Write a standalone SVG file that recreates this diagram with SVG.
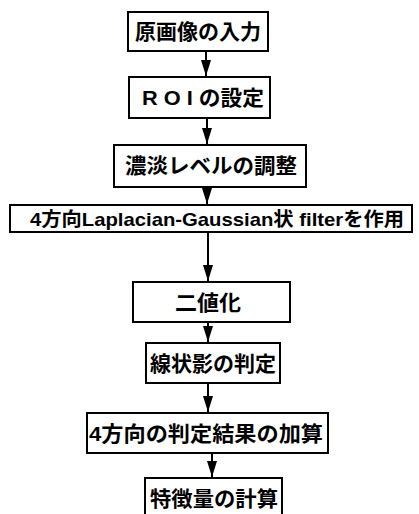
<svg xmlns="http://www.w3.org/2000/svg" width="419" height="514" viewBox="0 0 419 514">
<defs>
<marker id="ah" markerWidth="16" markerHeight="10" refX="16" refY="5" orient="auto" markerUnits="userSpaceOnUse" viewBox="0 0 16 10">
<path d="M0,0 L16,5 L0,10 Z" fill="#000"/>
</marker>
</defs>
<style>
.box{fill:#fff;stroke:#000;stroke-width:2}
.t{font-family:"Liberation Sans","Noto Sans CJK JP",sans-serif;font-weight:bold;font-size:21px;fill:#000;text-anchor:middle}
.c{stroke:#000;stroke-width:2;fill:none}
</style>
<rect width="419" height="514" fill="#fff"/>
<g id="n1"><rect class="box" x="128" y="12" width="140" height="39"/><text class="t" x="198" y="39" textLength="126" lengthAdjust="spacingAndGlyphs">原画像の入力</text></g>
<g id="n2"><rect class="box" x="129" y="77" width="141" height="41"/><text class="t" x="203" y="105" textLength="122" lengthAdjust="spacingAndGlyphs">R O I の設定</text></g>
<g id="n3"><rect class="box" x="114" y="145" width="192" height="42"/><text class="t" x="211" y="173" textLength="172" lengthAdjust="spacingAndGlyphs">濃淡レベルの調整</text></g>
<g id="n4"><rect class="box" x="10" y="205" width="402" height="27"/><text class="t" x="217" y="226" style="font-size:19px" textLength="374" lengthAdjust="spacingAndGlyphs">4方向Laplacian-Gaussian状 filterを作用</text></g>
<g id="n5"><rect class="box" x="133" y="282" width="157" height="40"/><text class="t" x="208" y="310" textLength="66" lengthAdjust="spacingAndGlyphs">二値化</text></g>
<g id="n6"><rect class="box" x="146" y="343" width="134" height="40"/><text class="t" x="213" y="371" textLength="126" lengthAdjust="spacingAndGlyphs">線状影の判定</text></g>
<g id="n7"><rect class="box" x="87" y="413" width="241" height="40"/><text class="t" x="206" y="441" textLength="234" lengthAdjust="spacingAndGlyphs">4方向の判定結果の加算</text></g>
<g id="n8"><rect class="box" x="145" y="478" width="137" height="40"/><text class="t" x="214" y="506" textLength="128" lengthAdjust="spacingAndGlyphs">特徴量の計算</text></g>
<g id="connectors">
<line class="c" x1="206" y1="52" x2="206" y2="76" marker-end="url(#ah)"/>
<line class="c" x1="207" y1="119" x2="207" y2="144" marker-end="url(#ah)"/>
<line class="c" x1="207" y1="188" x2="207" y2="204" marker-end="url(#ah)"/>
<line class="c" x1="208" y1="233" x2="208" y2="281" marker-end="url(#ah)"/>
<line class="c" x1="208" y1="323" x2="208" y2="342" marker-end="url(#ah)"/>
<line class="c" x1="208" y1="384" x2="208" y2="412" marker-end="url(#ah)"/>
<line class="c" x1="212" y1="454" x2="212" y2="477" marker-end="url(#ah)"/>
</g>
</svg>
